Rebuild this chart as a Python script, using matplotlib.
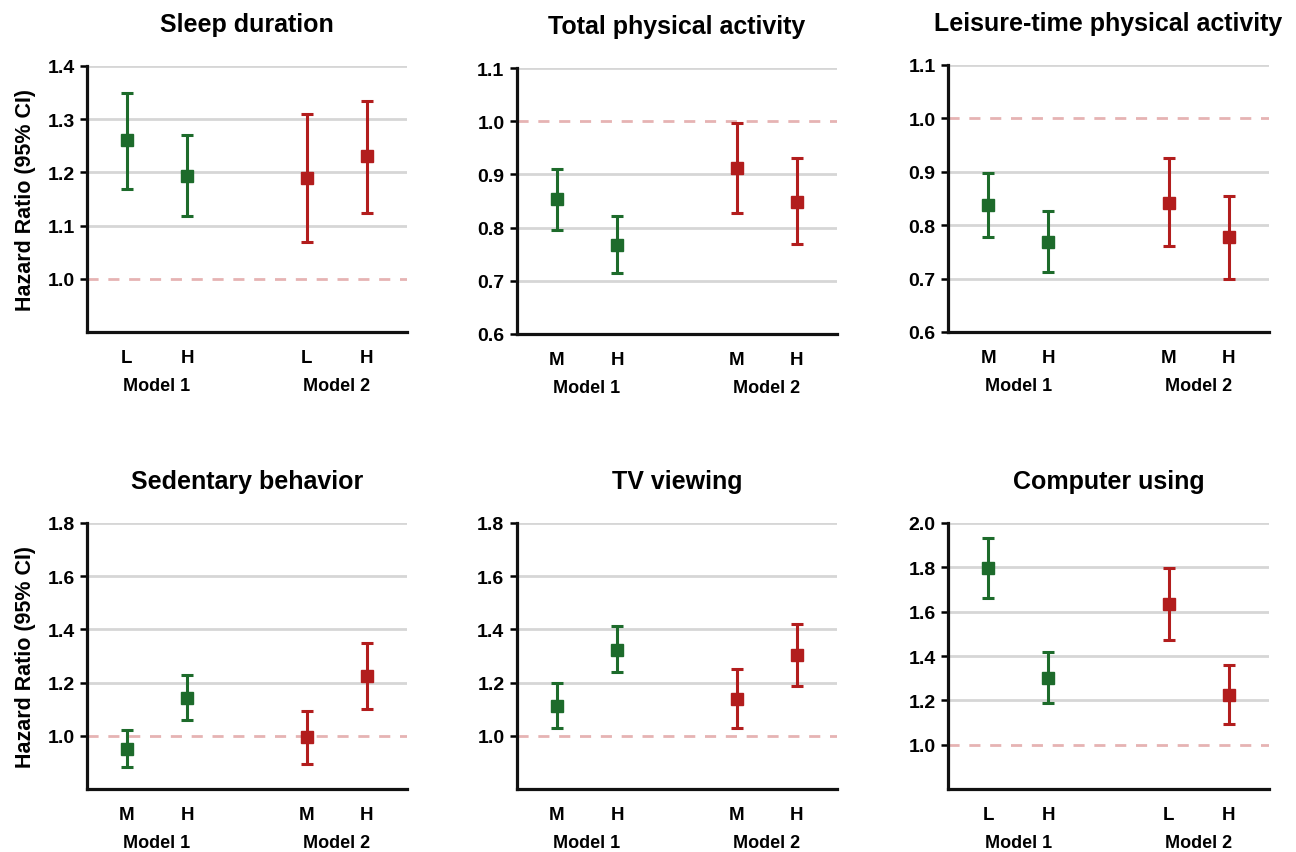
import matplotlib
matplotlib.use("Agg")
import matplotlib.pyplot as plt
from matplotlib.transforms import blended_transform_factory

plt.rcParams['font.family'] = ['Liberation Sans', 'DejaVu Sans']
plt.rcParams['font.weight'] = 'bold'

# ---- data ----
titles = ["Sleep duration", "Total physical activity", "Leisure-time physical activity",
          "Sedentary behavior", "TV viewing", "Computer using"]
level_labels = [["L", "H", "L", "H"], ["M", "H", "M", "H"], ["M", "H", "M", "H"],
                ["M", "H", "M", "H"], ["M", "H", "M", "H"], ["L", "H", "L", "H"]]
model_labels = ["Model 1", "Model 2"]

hr_sleep = [1.26, 1.194, 1.19, 1.23]
lo_sleep = [1.168, 1.118, 1.07, 1.124]
hi_sleep = [1.35, 1.271, 1.31, 1.335]

hr_tpa = [0.853, 0.768, 0.912, 0.849]
lo_tpa = [0.795, 0.715, 0.827, 0.769]
hi_tpa = [0.911, 0.822, 0.996, 0.931]

hr_lpa = [0.837, 0.769, 0.842, 0.777]
lo_lpa = [0.778, 0.713, 0.761, 0.700]
hi_lpa = [0.897, 0.826, 0.925, 0.855]

hr_sed = [0.950, 1.143, 0.995, 1.223]
lo_sed = [0.882, 1.060, 0.895, 1.100]
hi_sed = [1.020, 1.228, 1.093, 1.348]

hr_tv = [1.113, 1.324, 1.140, 1.303]
lo_tv = [1.028, 1.238, 1.030, 1.186]
hi_tv = [1.198, 1.411, 1.253, 1.421]

hr_comp = [1.798, 1.302, 1.633, 1.224]
lo_comp = [1.663, 1.188, 1.471, 1.095]
hi_comp = [1.932, 1.418, 1.795, 1.359]

hr_all = [hr_sleep, hr_tpa, hr_lpa, hr_sed, hr_tv, hr_comp]
lo_all = [lo_sleep, lo_tpa, lo_lpa, lo_sed, lo_tv, lo_comp]
hi_all = [hi_sleep, hi_tpa, hi_lpa, hi_sed, hi_tv, hi_comp]

ylims = [(0.9, 1.4), (0.6, 1.1), (0.6, 1.1), (0.8, 1.8), (0.8, 1.8), (0.8, 2.0)]
yticks = [[1.0, 1.1, 1.2, 1.3, 1.4],
          [0.6, 0.7, 0.8, 0.9, 1.0, 1.1],
          [0.6, 0.7, 0.8, 0.9, 1.0, 1.1],
          [1.0, 1.2, 1.4, 1.6, 1.8],
          [1.0, 1.2, 1.4, 1.6, 1.8],
          [1.0, 1.2, 1.4, 1.6, 1.8, 2.0]]

xpos = [1, 2, 4, 5]
model_x = [1.5, 4.5]
colors = ["#1d6b2b", "#1d6b2b", "#b21d1d", "#b21d1d"]

W, H = 1296, 853
fig = plt.figure(figsize=(W / 100, H / 100), dpi=100)

# axes boxes in pixels: left, top, right, bottom
boxes = [(87, 67, 407, 333), (517, 69, 837, 335), (948, 66, 1269, 333),
         (87, 524, 407, 790), (517, 524, 837, 790), (948, 524, 1269, 790)]

for i in range(6):
    l, t, r, b = boxes[i]
    ax = fig.add_axes([l / W, 1 - b / H, (r - l) / W, (b - t) / H])
    ax.set_xlim(1 / 3, 5 + 2 / 3)
    ax.set_ylim(*ylims[i])
    # gridlines
    for yv in yticks[i]:
        if abs(yv - 1.0) < 1e-9:
            ax.axhline(yv, color="#e6b3b3", lw=2, ls=(0, (4, 3.5)), zorder=1)
        elif yv > ylims[i][0] + 1e-9:
            ax.axhline(yv, color="#d6d6d6", lw=2, zorder=1)
    for j in range(4):
        m = hr_all[i][j]
        ax.errorbar(xpos[j], m,
                    yerr=[[m - lo_all[i][j]], [hi_all[i][j] - m]],
                    fmt="s", color=colors[j], ecolor=colors[j], ms=8,
                    elinewidth=2.2, capsize=4.5, capthick=2.2, zorder=3)
    ax.set_yticks(yticks[i])
    ax.set_yticklabels([f"{v:.1f}" for v in yticks[i]], fontsize=14, fontweight="bold")
    ax.set_xticks(xpos)
    ax.set_xticklabels(level_labels[i], fontsize=13.5, fontweight="bold")
    ax.tick_params(axis="x", length=0, pad=12)
    ax.tick_params(axis="y", length=5, width=1.8, pad=4)
    for s in ["top", "right"]:
        ax.spines[s].set_visible(False)
    for s in ["left", "bottom"]:
        ax.spines[s].set_linewidth(2.3)
        ax.spines[s].set_color("#111111")
    tr = blended_transform_factory(ax.transData, ax.transAxes)
    for k in range(2):
        ax.annotate(model_labels[k], xy=(model_x[k], 0), xycoords=tr,
                    xytext=(0, -54), textcoords="offset pixels",
                    ha="center", va="center", fontsize=13, fontweight="bold")
    ax.set_title(titles[i], fontsize=18, fontweight="bold", pad=25)
    if i % 3 == 0:
        ax.set_ylabel("Hazard Ratio (95% CI)", fontsize=15.5, fontweight="bold", labelpad=8)

fig.savefig("out.png", dpi=100, facecolor="white")
